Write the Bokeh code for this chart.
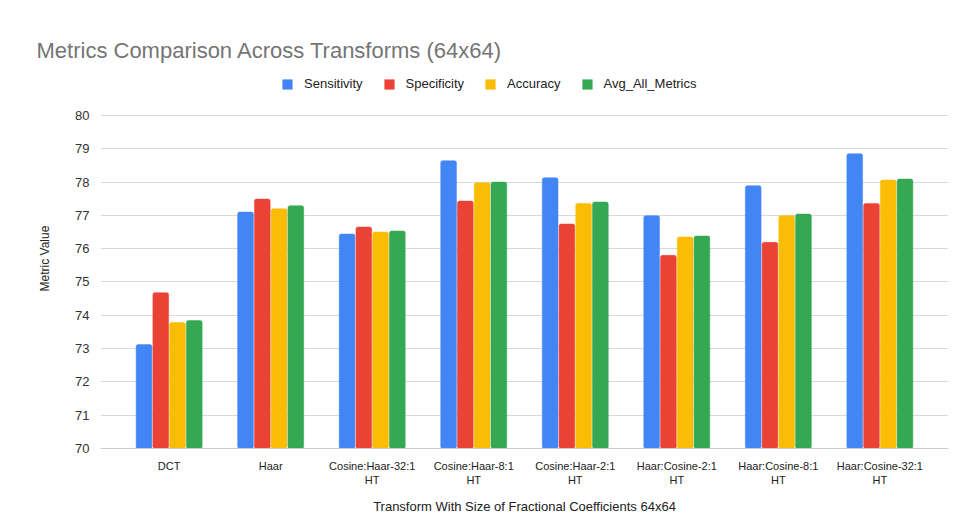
from bokeh.plotting import figure
from bokeh.models import ColumnDataSource, FactorRange, Legend, LegendItem, Range1d, FixedTicker
from bokeh.transform import dodge
from bokeh.embed import file_html
from bokeh.resources import INLINE

categories = ["DCT", "Haar", "Cosine:Haar-32:1\nHT", "Cosine:Haar-8:1\nHT",
              "Cosine:Haar-2:1\nHT", "Haar:Cosine-2:1\nHT", "Haar:Cosine-8:1\nHT",
              "Haar:Cosine-32:1\nHT"]
sensitivity = [73.12, 77.10, 76.44, 78.64, 78.13, 76.99, 77.89, 78.85]
specificity = [74.68, 77.49, 76.65, 77.43, 76.74, 75.80, 76.19, 77.36]
accuracy = [73.78, 77.20, 76.50, 77.98, 77.36, 76.35, 76.99, 78.06]
avg_all_metrics = [73.84, 77.29, 76.53, 78.00, 77.40, 76.38, 77.04, 78.09]
series_names = ["Sensitivity", "Specificity", "Accuracy", "Avg_All_Metrics"]
colors = ["#4285F4", "#EA4335", "#FBBC04", "#34A853"]
y_ticks = [70, 71, 72, 73, 74, 75, 76, 77, 78, 79, 80]

source = ColumnDataSource(dict(cat=categories, s0=sensitivity, s1=specificity,
                               s2=accuracy, s3=avg_all_metrics))

FONT = "Liberation Sans"
# frame extends above the top tick to leave room for the legend row
p = figure(width=966, height=531, output_backend="svg", toolbar_location=None,
           x_range=FactorRange(*categories, range_padding=0.044),
           y_range=Range1d(y_ticks[0], y_ticks[-1] + 1.41),
           min_border_left=100, min_border_right=18, min_border_top=68,
           min_border_bottom=83)

offsets = [-0.2475, -0.0825, 0.0825, 0.2475]
renderers = []
for i, name in enumerate(series_names):
    r = p.vbar(x=dodge("cat", offsets[i], range=p.x_range), top="s%d" % i,
               bottom=y_ticks[0], width=0.155, source=source,
               fill_color=colors[i], line_color=colors[i], line_width=0.5,
               border_radius=2)
    renderers.append(r)

legend = Legend(items=[LegendItem(label=n, renderers=[r]) for n, r in zip(series_names, renderers)],
                orientation="horizontal", location=(181, 357),
                label_text_font=FONT, label_text_font_size="13px", label_text_color="#222222",
                glyph_width=12, glyph_height=12, spacing=20, label_standoff=11,
                border_line_color=None, background_fill_alpha=0, margin=0, padding=0)
p.add_layout(legend)

p.title.text = "Metrics Comparison Across Transforms (64x64)"
p.title.text_font = FONT
p.title.text_font_size = "22px"
p.title.text_font_style = "normal"
p.title.text_color = "#757575"
p.title.offset = -64
p.title.standoff = 11

p.yaxis.ticker = FixedTicker(ticks=y_ticks)
p.yaxis.axis_label = "Metric Value"
p.yaxis.axis_label_text_font = FONT
p.yaxis.axis_label_text_font_size = "12px"
p.yaxis.axis_label_text_font_style = "normal"
p.yaxis.axis_label_text_color = "#222222"
p.yaxis.major_label_text_font = FONT
p.yaxis.major_label_text_font_size = "13px"
p.yaxis.major_label_text_color = "#333333"
p.yaxis.axis_line_color = None
p.yaxis.major_tick_line_color = None
p.yaxis.minor_tick_line_color = None
p.yaxis.axis_label_standoff = 20

p.xaxis.axis_label = "Transform With Size of Fractional Coefficients 64x64"
p.xaxis.axis_label_text_font = FONT
p.xaxis.axis_label_text_font_size = "13px"
p.xaxis.axis_label_text_font_style = "normal"
p.xaxis.axis_label_text_color = "#222222"
p.xaxis.major_label_text_font = FONT
p.xaxis.major_label_text_font_size = "11px"
p.xaxis.major_label_text_color = "#222222"
p.xaxis.axis_line_color = "#cccccc"
p.xaxis.major_tick_line_color = None
p.xaxis.axis_label_standoff = 10

p.xgrid.grid_line_color = None
p.ygrid.grid_line_color = "#d9d9d9"
p.outline_line_color = None
p.background_fill_color = "white"
p.border_fill_color = "white"

open("out.html", "w").write(file_html(p, INLINE))
